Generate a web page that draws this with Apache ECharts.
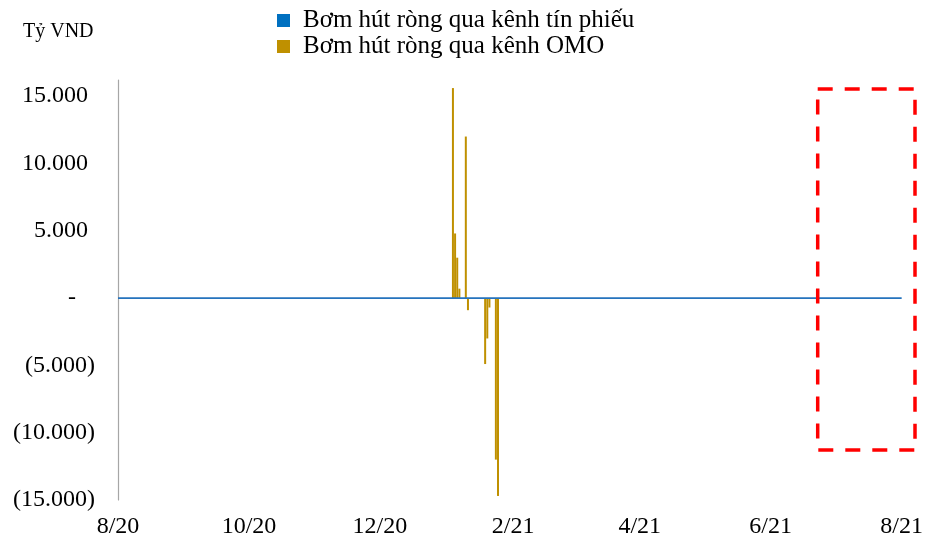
<!DOCTYPE html>
<html>
<head>
<meta charset="utf-8">
<script src="https://cdn.jsdelivr.net/npm/echarts@6/dist/echarts.min.js"></script>
<style>
  html, body { margin: 0; padding: 0; background: #fff; }
  #chart { width: 926px; height: 544px; }
</style>
</head>
<body>
<div id="chart"></div>
<script>
// Daily axis range
const startDate = '2020-08-01';
const endDate = '2021-08-01';

// Net injection/withdrawal via OMO (billion VND)
const omoDates = ['2021-01-04', '2021-01-05', '2021-01-06', '2021-01-07', '2021-01-10', '2021-01-11',
                  '2021-01-19', '2021-01-20', '2021-01-21', '2021-01-24', '2021-01-25'];
const omoValues = [15600, 4800, 3000, 700, 12000, -900, -4900, -3000, -700, -12000, -14700];

// Net injection/withdrawal via treasury bills (billion VND)
const billDates = ['2020-08-01', '2020-09-01', '2020-10-01', '2020-11-01', '2020-12-01', '2021-01-01',
                   '2021-02-01', '2021-03-01', '2021-04-01', '2021-05-01', '2021-06-01', '2021-07-01', '2021-08-01'];
const billValues = [0, 0, 0, 0, 0, 0, 0, 0, 0, 0, 0, 0, 0];

const seriesNames = ['Bơm hút ròng qua kênh tín phiếu', 'Bơm hút ròng qua kênh OMO'];

// Build the daily category list
const categories = [];
for (let t = Date.parse(startDate + 'T00:00:00Z'); t <= Date.parse(endDate + 'T00:00:00Z'); t += 86400000) {
  categories.push(new Date(t).toISOString().slice(0, 10));
}
function toDaily(dates, values) {
  const out = categories.map(() => null);
  dates.forEach((d, i) => {
    const idx = categories.indexOf(d);
    if (idx >= 0) out[idx] = values[i];
  });
  return out;
}

function fmtNum(v) {
  return Math.abs(v).toString().replace(/\B(?=(\d{3})+(?!\d))/g, '.');
}

const serif = 'Liberation Serif';
const chart = echarts.init(document.getElementById('chart'));
chart.setOption({
  animation: false,
  backgroundColor: '#ffffff',
  title: {
    text: 'Tỷ VND',
    left: 18,
    top: 17,
    textStyle: { fontFamily: serif, fontSize: 20, fontWeight: 'normal', color: '#000' }
  },
  legend: {
    orient: 'vertical',
    left: 272,
    top: 3,
    icon: 'rect',
    itemWidth: 13,
    itemHeight: 13,
    itemGap: 1,
    data: seriesNames,
    textStyle: { fontFamily: serif, fontSize: 25, color: '#000', lineHeight: 25, padding: [0, 0, 0, 8] }
  },
  grid: { left: 118, top: 80, width: 788, height: 420 },
  xAxis: {
    type: 'category',
    data: categories,
    boundaryGap: false,
    axisLine: { show: false, onZero: false },
    axisTick: { show: false },
    axisLabel: {
      interval: (idx, val) => val.slice(8) === '01' && (+val.slice(5, 7)) % 2 === 0,
      formatter: (val) => (+val.slice(5, 7)) + '/' + val.slice(2, 4),
      fontFamily: serif,
      fontSize: 24,
      color: '#000',
      margin: 15
    },
    splitLine: { show: false }
  },
  yAxis: {
    type: 'value',
    min: -15000,
    max: 16200,
    interval: 5000,
    axisLine: { show: true, lineStyle: { color: '#A6A6A6', width: 1.2 } },
    axisTick: { show: false },
    splitLine: { show: false },
    axisLabel: {
      showMaxLabel: false,
      margin: 23,
      fontFamily: serif,
      fontSize: 24,
      color: '#000',
      formatter: (v) => {
        if (v % 5000 !== 0) return '';
        if (v === 0) return '{z|-}';
        if (v < 0) return '(' + fmtNum(v) + ')';
        return '{p|' + fmtNum(v) + '}';
      },
      rich: {
        p: { fontFamily: serif, fontSize: 24, color: '#000', padding: [0, 7, 0, 0] },
        z: { fontFamily: serif, fontSize: 24, color: '#000', padding: [0, 19, 0, 0] }
      }
    }
  },
  series: [
    {
      name: seriesNames[0],
      type: 'line',
      data: toDaily(billDates, billValues),
      connectNulls: true,
      showSymbol: false,
      itemStyle: { color: '#0070C0' },
      lineStyle: { color: '#2573BD', width: 1.6 },
      z: 3
    },
    {
      name: seriesNames[1],
      type: 'bar',
      data: toDaily(omoDates, omoValues),
      barWidth: 2,
      itemStyle: { color: '#BF9000' },
      z: 2
    }
  ],
  graphic: [
    {
      type: 'rect',
      shape: { x: 817.7, y: 89, width: 97.3, height: 361 },
      style: { fill: 'none', stroke: '#FF0000', lineWidth: 3.5, lineDash: [15, 12] },
      z: 10
    }
  ]
});
</script>
</body>
</html>
